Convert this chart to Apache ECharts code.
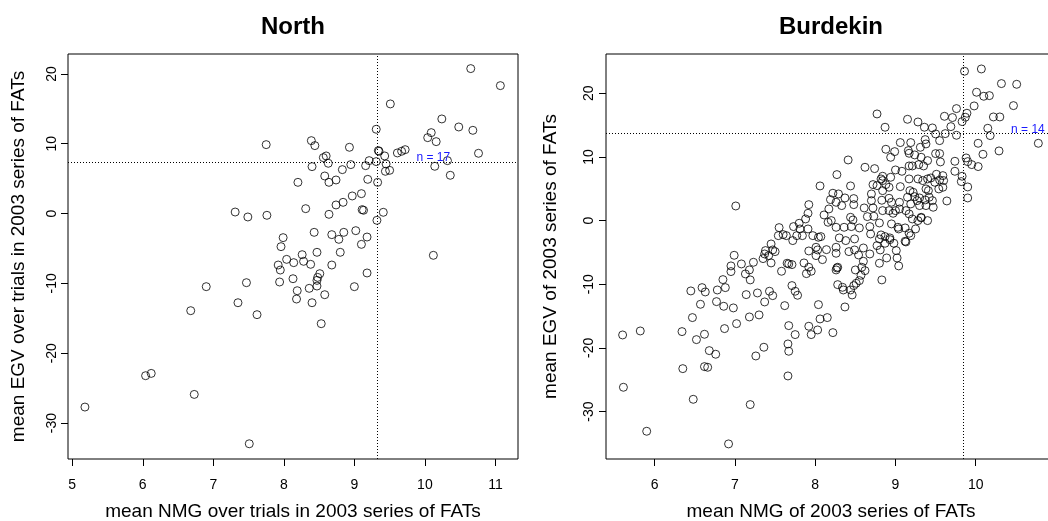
<!DOCTYPE html>
<html><head><meta charset="utf-8">
<script src="https://cdn.jsdelivr.net/npm/echarts@6/dist/echarts.min.js"></script>
<style>html,body{margin:0;padding:0;background:#fff}#c{width:1048px;height:521px}</style>
</head><body><div id="c"></div>
<script>
// ---------- data ----------
const northX=[10.65,11.07,9.51,10.24,10.48,10.68,9.31,10.09,10.04,10.16,
7.75,8.39,8.44,8.93,9.34,9.35,9.61,9.67,9.72,10.76,
9.43,8.56,8.60,8.63,9.21,9.31,9.16,8.95,9.45,8.40,
8.83,9.44,9.50,10.14,10.32,10.36,8.58,8.20,8.64,8.74,
9.19,9.33,9.10,8.97,8.84,8.74,8.31,9.11,9.13,7.31,
7.49,7.76,8.64,9.41,9.32,8.43,8.68,8.85,9.02,8.78,
9.18,9.10,7.99,7.96,8.47,8.80,8.26,8.04,8.14,8.28,
8.38,7.92,7.95,8.68,10.12,8.51,9.18,8.48,8.13,8.47,
7.94,7.47,6.90,8.47,8.36,8.19,9.00,8.58,8.18,8.40,
7.35,6.68,7.62,8.53,6.04,6.12,6.73,5.18,7.51];
const northY=[20.76,18.32,15.70,13.55,12.40,11.92,12.07,11.59,10.87,10.30,
9.87,10.44,9.73,9.49,9.01,8.92,8.68,8.92,9.15,8.63,
8.25,8.01,8.25,7.20,7.58,7.44,6.86,7.01,7.10,6.72,
6.29,6.05,6.19,6.77,7.58,5.48,5.38,4.47,4.47,4.81,
4.90,4.47,2.85,2.52,1.61,1.23,0.70,0.56,0.47,0.22,
-0.49,-0.25,-0.11,0.18,-0.97,-2.69,-3.02,-2.69,-2.45,-3.69,
-3.36,-4.41,-3.45,-4.74,-5.55,-5.55,-5.89,-6.56,-7.03,-6.84,
-7.27,-7.37,-8.09,-7.37,-5.98,-8.61,-8.51,-9.14,-9.33,-9.57,
-9.80,-9.90,-10.47,-10.38,-10.71,-11.05,-10.47,-11.62,-12.24,-12.77,
-12.77,-13.91,-14.48,-15.77,-23.22,-22.89,-25.90,-27.71,-32.97];

const burdX=[9.86,10.07,10.32,10.51,10.01,10.10,10.17,10.47,9.98,9.76,
8.77,9.89,9.87,9.61,9.71,10.22,10.30,9.15,9.28,9.83,
8.87,9.36,9.46,9.69,10.15,9.50,9.62,9.76,10.18,9.37,
9.06,9.19,9.55,9.38,10.03,10.78,9.31,8.88,8.99,9.16,
10.29,10.09,9.17,9.24,9.32,9.50,9.55,8.94,9.40,9.56,
9.88,9.74,8.41,9.17,9.21,8.62,8.74,9.29,9.35,9.00,
9.08,9.95,10.03,9.90,9.74,9.83,9.51,9.59,8.84,8.27,
8.94,9.17,8.82,8.84,8.72,8.77,8.88,8.92,9.06,9.28,
9.34,9.40,9.44,9.49,9.55,9.60,9.82,9.90,9.59,9.54,
9.38,9.41,9.18,9.22,9.24,9.30,9.37,9.42,9.46,9.64,
9.90,8.06,8.44,8.22,8.29,8.37,8.48,8.19,8.26,8.33,
8.48,8.70,8.70,8.83,8.92,8.95,9.05,8.84,9.15,9.27,
9.30,9.38,9.47,9.19,7.92,7.91,7.88,7.80,7.73,7.81,
7.91,7.84,7.77,7.64,7.55,7.60,7.72,7.54,8.11,8.17,
8.16,8.20,8.26,8.36,8.44,8.47,8.45,8.55,8.61,8.65,
8.72,8.73,8.68,8.80,8.84,8.92,8.97,9.00,9.05,9.13,
9.17,9.21,9.28,9.32,9.40,8.95,9.03,9.04,9.12,9.17,
9.19,9.25,9.32,7.97,8.04,8.07,8.30,8.38,8.49,8.82,
8.93,8.69,7.38,7.45,7.47,7.50,7.37,7.42,7.35,7.45,
7.23,7.18,7.08,6.99,6.95,6.95,7.13,7.19,7.58,7.65,
7.67,7.71,7.92,8.01,8.03,8.14,8.01,8.09,7.86,7.92,
7.95,7.89,8.26,8.26,8.42,8.49,8.60,8.54,8.68,8.60,
8.58,8.62,8.50,8.27,8.26,8.28,8.80,8.81,8.89,9.01,
9.02,9.04,8.87,8.98,9.12,8.77,8.80,8.87,9.13,8.93,
6.85,6.88,6.78,6.59,6.63,6.45,6.77,6.86,6.57,6.98,
7.14,7.28,7.37,7.43,7.47,7.62,7.71,7.75,7.78,8.04,
8.28,8.34,8.35,8.44,8.46,8.48,8.51,8.55,8.57,8.83,
8.37,6.47,7.02,7.18,7.30,6.87,8.06,8.15,7.67,5.60,
5.82,6.34,6.62,6.52,7.75,7.92,8.03,7.95,8.22,7.36,
7.66,7.67,6.68,6.76,7.26,6.35,6.62,6.66,7.66,5.61,
6.48,7.19,5.90,6.92,7.01];
const burdY=[23.47,23.83,21.53,21.42,20.17,19.54,19.64,18.07,18.02,17.60,
16.76,16.87,16.24,16.39,16.19,16.29,16.29,15.92,15.50,15.56,
14.67,14.67,14.56,14.77,14.51,13.62,13.67,13.41,13.36,12.73,
12.26,12.26,12.57,12.05,12.15,12.15,11.52,11.21,10.84,11.00,
10.95,10.42,10.58,10.32,9.95,10.53,10.53,9.95,9.43,9.22,
9.85,9.32,9.53,8.59,8.59,8.38,8.17,8.80,8.59,7.96,
7.75,8.80,8.49,9.27,7.75,6.97,7.28,7.07,6.97,7.23,
6.81,6.55,6.55,6.29,5.66,5.50,5.66,5.24,5.34,6.55,
6.29,6.55,6.70,6.02,6.39,6.29,6.13,5.29,5.24,4.98,
4.98,4.71,4.71,4.45,3.77,3.56,3.25,3.67,3.14,3.09,
3.56,5.45,5.45,4.30,4.19,3.56,3.46,3.30,2.88,2.36,
2.51,4.19,3.14,3.20,3.51,2.88,2.88,4.71,3.67,3.14,
2.36,2.36,2.10,2.62,2.51,1.15,0.26,-0.42,-0.94,-1.31,
-1.31,-2.36,-2.36,-2.36,-1.10,-2.20,-3.14,-2.36,0.89,1.83,
-0.26,0.00,-1.05,-1.05,0.52,0.10,-0.94,-1.15,1.99,0.63,
1.99,0.68,-0.94,-0.37,1.57,1.57,1.15,1.57,1.83,1.57,
1.05,0.26,0.00,0.52,0.00,-0.52,-1.05,-1.31,-1.15,-1.99,
-2.36,-1.31,0.42,-2.36,-2.62,-2.51,-2.72,-3.14,-2.88,-2.25,
-2.99,-2.10,-4.71,-3.67,-4.61,-4.87,-5.24,-5.50,-5.97,-6.65,
-6.55,-7.75,-6.81,-5.45,-7.12,-8.01,-8.38,-9.32,-7.96,-6.70,
-6.81,-6.91,-4.77,-4.19,-4.61,-4.56,-5.50,-6.13,-6.65,-7.33,
-7.96,-8.33,-4.19,-5.13,-4.87,-4.61,-4.30,-5.40,-5.24,-6.39,
-7.33,-7.86,-7.75,-7.44,-7.75,-7.33,-6.70,-4.61,-5.87,-4.71,
-5.87,-7.12,-3.56,-3.56,-3.25,-3.93,-2.88,-2.51,-3.35,-2.72,
-9.27,-10.53,-10.90,-10.53,-11.21,-11.05,-12.73,-13.46,-13.15,-13.72,
-11.63,-11.37,-12.78,-11.10,-11.79,-13.36,-10.21,-11.10,-11.73,-13.20,
-10.06,-10.48,-10.90,-10.90,-11.68,-10.21,-9.85,-9.43,-8.59,-9.32,
-13.57,-15.24,-16.19,-15.14,-14.82,-16.97,-15.45,-15.24,-16.50,-17.97,
-17.34,-17.44,-17.86,-18.70,-17.91,-16.60,-17.18,-17.91,-17.60,-19.90,
-19.38,-20.53,-20.43,-21.00,-21.27,-23.26,-22.94,-23.05,-24.41,-26.19,
-28.08,-28.91,-33.10,-35.09,2.30];

const northXTicks=[5,6,7,8,9,10,11];
const northYTicks=[-30,-20,-10,0,10,20];
const burdXTicks=[6,7,8,9,10];
const burdYTicks=[-30,-20,-10,0,10,20];

const northRefX=[9.33], northRefY=[7.4];
const burdRefX=[9.85], burdRefY=[13.7];
const northNote=['n = 17',10.12,8.05];
const burdNote=['n = 14',10.65,14.35];

const titles=['North','Burdekin'];
const xNames=['mean NMG over trials in 2003 series of FATs','mean NMG of 2003 series of FATs'];
const yNames=['mean EGV over trials in 2003 series of FATs','mean EGV of 2003 series of FATs'];

// ---------- chart ----------
const FONT="'Liberation Sans', Arial, Helvetica, sans-serif";
const zip=(a,b)=>a.map((v,i)=>[v,b[i]]);

function xAx(gi,min,max,ticks,name){
  return {type:'value',gridIndex:gi,min:min,max:max,name:name,nameLocation:'middle',nameGap:43,
    nameTextStyle:{fontSize:19,color:'#000',fontFamily:FONT},
    axisLine:{show:false,onZero:false},splitLine:{show:false},
    axisTick:{show:true,customValues:ticks,length:7,lineStyle:{color:'#000',width:1}},
    axisLabel:{customValues:ticks,fontSize:14,color:'#000',fontFamily:FONT,margin:19}};
}
function yAx(gi,min,max,ticks,name,gap,lm){
  return {type:'value',gridIndex:gi,min:min,max:max,name:name,nameLocation:'middle',nameGap:gap,
    nameTextStyle:{fontSize:19,color:'#000',fontFamily:FONT},
    axisLine:{show:false,onZero:false},splitLine:{show:false},
    axisTick:{show:true,customValues:ticks,length:7,lineStyle:{color:'#000',width:1}},
    axisLabel:{customValues:ticks,rotate:90,fontSize:14,color:'#000',fontFamily:FONT,margin:lm}};
}
function sc(gi,xs,ys,rx,ry,note){
  return {type:'scatter',xAxisIndex:gi,yAxisIndex:gi,data:zip(xs,ys),
    symbol:'circle',symbolSize:8,
    itemStyle:{color:'rgba(0,0,0,0)',borderColor:'#000',borderWidth:1},
    emphasis:{disabled:true},silent:true,
    markLine:{silent:true,symbol:'none',animation:false,label:{show:false},
      lineStyle:{color:'#000',type:[1,2],width:1},
      data:[{xAxis:rx[0]},{yAxis:ry[0]}]},
    markPoint:{silent:true,animation:false,
      data:[{coord:[note[1],note[2]],symbol:'circle',symbolSize:1,itemStyle:{color:'rgba(0,0,0,0)'},
        label:{show:true,position:'inside',formatter:note[0],color:'#1a1aff',fontSize:12,fontFamily:FONT}}]}
  };
}

const chart=echarts.init(document.getElementById('c'),null,{renderer:'canvas'});
chart.setOption({
  animation:false,
  backgroundColor:'#fff',
  grid:[
    {left:68,top:54,width:450,height:405,show:true,borderColor:'#000',borderWidth:1,backgroundColor:'rgba(0,0,0,0)',containLabel:false,outerBoundsMode:'none'},
    {left:606,top:54,width:450,height:405,show:true,borderColor:'#000',borderWidth:1,backgroundColor:'rgba(0,0,0,0)',containLabel:false,outerBoundsMode:'none'}
  ],
  xAxis:[xAx(0,4.94,11.32,northXTicks,xNames[0]),xAx(1,5.393,11.0,burdXTicks,xNames[1])],
  yAxis:[yAx(0,-35.15,22.85,northYTicks,yNames[0],40,9),yAx(1,-37.46,26.18,burdYTicks,yNames[1],46,10)],
  graphic:[
    {type:'text',x:293,y:27,style:{text:titles[0],font:'bold 24px '+FONT,fill:'#000',textAlign:'center',textVerticalAlign:'middle',align:'center',verticalAlign:'middle'}},
    {type:'text',x:831,y:27,style:{text:titles[1],font:'bold 24px '+FONT,fill:'#000',textAlign:'center',textVerticalAlign:'middle',align:'center',verticalAlign:'middle'}}
  ],
  series:[sc(0,northX,northY,northRefX,northRefY,northNote),sc(1,burdX,burdY,burdRefX,burdRefY,burdNote)]
});
</script></body></html>
